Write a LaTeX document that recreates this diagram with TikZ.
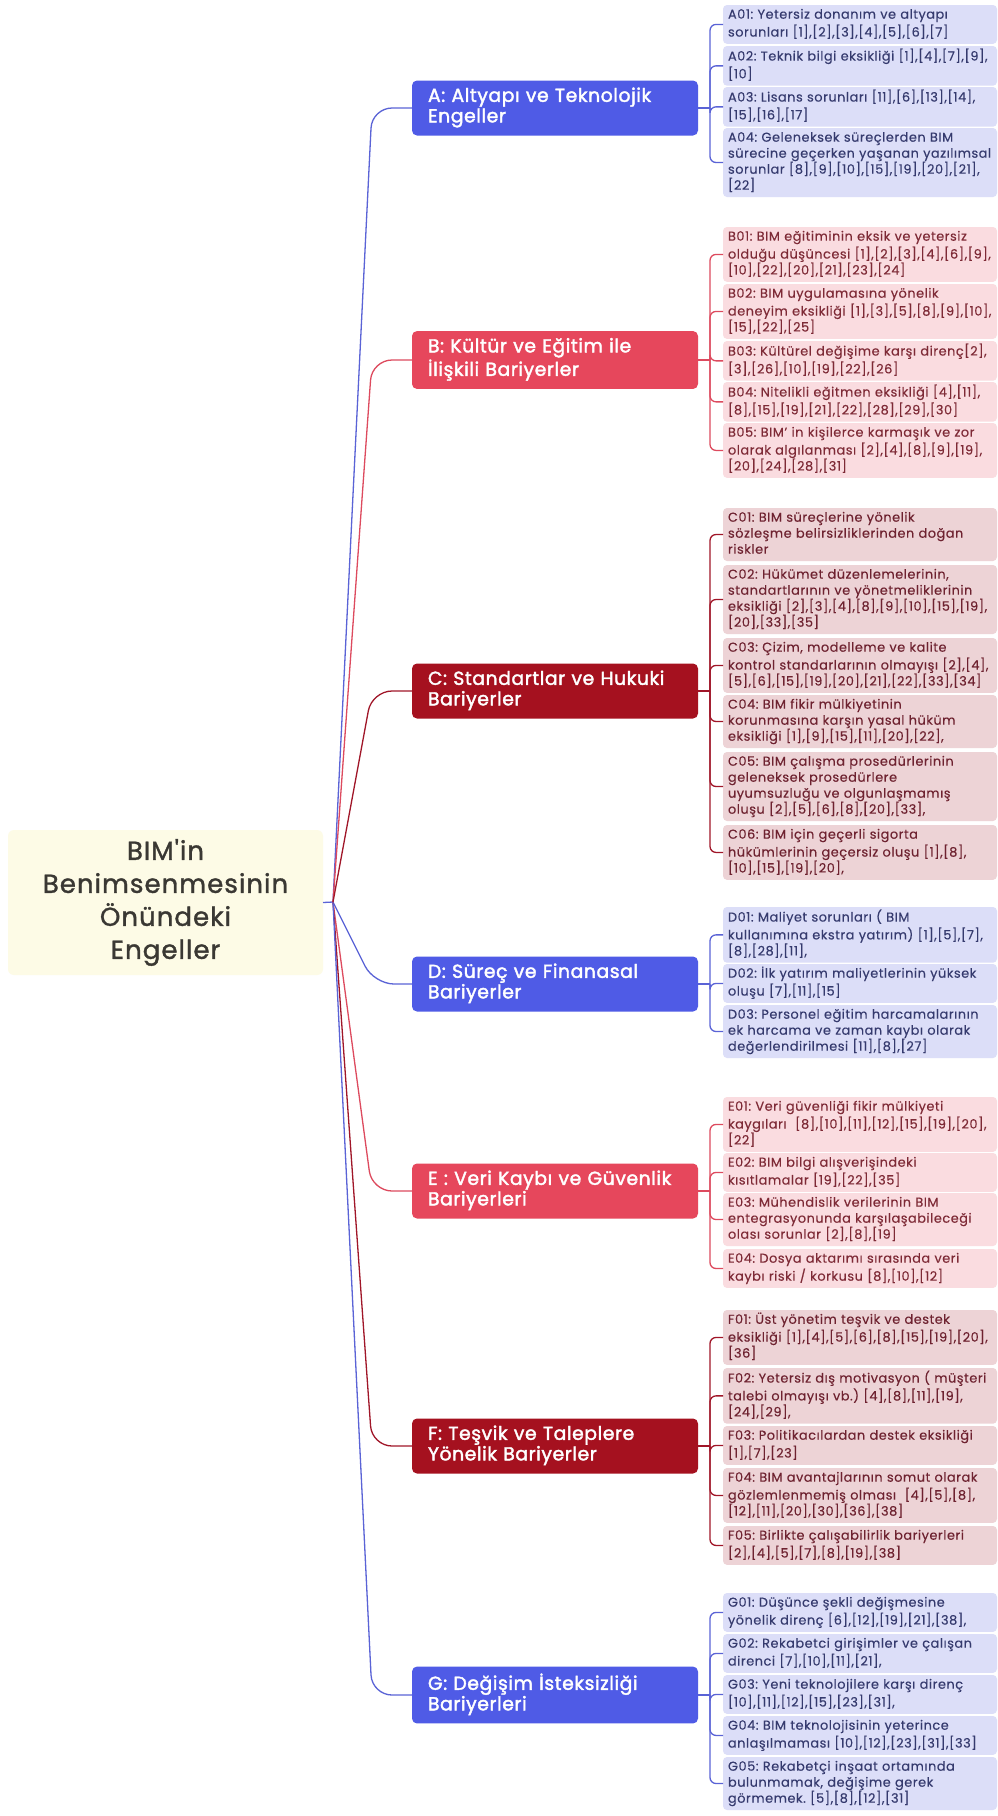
\documentclass[tikz,border=0pt]{standalone}
\usepackage{fontspec}
\setmainfont{Poppins}[LetterSpace=4, FakeBold=0.3]
\newfontfamily\rootfont{Poppins}[FakeBold=1.3, LetterSpace=4]
\newfontfamily\catfont{Poppins}[FakeBold=2, LetterSpace=3]
\usetikzlibrary{calc}
\definecolor{blueC}{HTML}{4F5BE6}
\definecolor{blueL}{HTML}{DCDEF8}
\definecolor{blueT}{HTML}{353A6E}
\definecolor{blueLine}{HTML}{5A63D6}
\definecolor{redC}{HTML}{E6475C}
\definecolor{redL}{HTML}{FADCE0}
\definecolor{redT}{HTML}{7E2A36}
\definecolor{redLine}{HTML}{DD4A5E}
\definecolor{darkC}{HTML}{A5111F}
\definecolor{darkL}{HTML}{EDD3D6}
\definecolor{darkT}{HTML}{6E2230}
\definecolor{darkLine}{HTML}{A01628}
\definecolor{rootF}{HTML}{FDFBE6}
\definecolor{rootT}{HTML}{3A3833}
\frenchspacing
\begin{document}
\begin{tikzpicture}[x=1pt,y=-1pt,
  every node/.style={inner sep=0pt, outer sep=0pt},
  rootbox/.style={fill=rootF, rounded corners=6pt, minimum width=315pt, minimum height=145pt, align=center, text=rootT, font=\rootfont\fontsize{26}{33}\selectfont},
  catbox/.style={rounded corners=5pt, anchor=west, minimum width=286pt, text width=254pt, align=left, inner xsep=16pt, inner ysep=7pt, text=white, font=\catfont\fontsize{18.8}{20.5}\selectfont, execute at begin node=\strut, execute at end node=\strut},
  catB/.style={catbox, fill=blueC},
  catR/.style={catbox, fill=redC},
  catD/.style={catbox, fill=darkC},
  leaf/.style={rounded corners=4pt, anchor=north west, minimum width=274pt, text width=264pt, inner xsep=5pt, inner ysep=2.5pt, align=left, font=\fontsize{12.9}{16}\selectfont, execute at begin node=\strut, execute at end node=\strut},
  lfB/.style={leaf, fill=blueL, text=blueT},
  lfR/.style={leaf, fill=redL, text=redT},
  lfD/.style={leaf, fill=darkL, text=darkT},
  lnB/.style={line width=1.3pt, draw=blueLine},
  lnR/.style={line width=1.3pt, draw=redLine},
  lnD/.style={line width=1.3pt, draw=darkLine},
  brk/.style={rounded corners=6pt},
  rc/.style={rounded corners=20pt}
]
\fill[white] (0,0) rectangle (998,1816);
\useasboundingbox (0,0) rectangle (998,1816);

% root
\node[rootbox] (root) at (165.5,902.5) {BIM'in\\Benimsenmesinin\\Önündeki\\Engeller};
\coordinate (J) at (333,902);

% categories
\node[catB] (A) at (412,108) {A: Altyapı ve Teknolojik\\Engeller};
\node[catR] (B) at (412,360) {B: Kültür ve Eğitim ile\\İlişkili Bariyerler};
\node[catD] (C) at (412,691) {C: Standartlar ve Hukuki\\Bariyerler};
\node[catB] (D) at (412,984) {D: Süreç ve Finanasal\\Bariyerler};
\node[catR] (E) at (412,1191) {E : Veri Kaybı ve Güvenlik\\Bariyerleri};
\node[catD] (F) at (412,1446) {F: Teşvik ve Taleplere\\Yönelik Bariyerler};
\node[catB] (G) at (412,1695) {G: Değişim İsteksizliği\\Bariyerleri};

% root connectors
\draw[lnB] (root.east) -- (J);
\draw[lnB,rc] (J) -- (372,108) -- (A.west);
\draw[lnR,rc] (J) -- (372,360) -- (B.west);
\draw[lnD,rc] (J) -- (372,691) -- (C.west);
\draw[lnB,rc] (J) -- (374,984) -- (D.west);
\draw[lnR,rc] (J) -- (372,1191) -- (E.west);
\draw[lnD,rc] (J) -- (372,1446) -- (F.west);
\draw[lnB,rc] (J) -- (372,1695) -- (G.west);

% A leaves
\node[lfB] (A01) at (723,5) {A01: Yetersiz donanım ve altyapı\\sorunları [1],[2],[3],[4],[5],[6],[7]};
\node[lfB] (A02) at (723,46) {A02: Teknik bilgi eksikliği [1],[4],[7],[9],\\{}[10]};
\node[lfB] (A03) at (723,87) {A03: Lisans sorunları [11],[6],[13],[14],\\{}[15],[16],[17]};
\node[lfB] (A04) at (723,128) {A04: Geleneksek süreçlerden BIM\\sürecine geçerken yaşanan yazılımsal\\sorunlar [8],[9],[10],[15],[19],[20],[21],\\{}[22]};
% B leaves
\node[lfR] (B01) at (723,227) {B01: BIM eğitiminin eksik ve yetersiz\\olduğu düşüncesi [1],[2],[3],[4],[6],[9],\\{}[10],[22],[20],[21],[23],[24]};
\node[lfR] (B02) at (723,284) {B02: BIM uygulamasına yönelik\\deneyim eksikliği [1],[3],[5],[8],[9],[10],\\{}[15],[22],[25]};
\node[lfR] (B03) at (723,341) {B03: Kültürel değişime karşı direnç[2],\\{}[3],[26],[10],[19],[22],[26]};
\node[lfR] (B04) at (723,382) {B04: Nitelikli eğitmen eksikliği [4],[11],\\{}[8],[15],[19],[21],[22],[28],[29],[30]};
\node[lfR] (B05) at (723,423) {B05: BIM' in kişilerce karmaşık ve zor\\olarak algılanması [2],[4],[8],[9],[19],\\{}[20],[24],[28],[31]};
% C leaves
\node[lfD] (C01) at (723,508) {C01: BIM süreçlerine yönelik\\sözleşme belirsizliklerinden doğan\\riskler};
\node[lfD] (C02) at (723,565) {C02: Hükümet düzenlemelerinin,\\standartlarının ve yönetmeliklerinin\\eksikliği [2],[3],[4],[8],[9],[10],[15],[19],\\{}[20],[33],[35]};
\node[lfD] (C03) at (723,638) {C03: Çizim, modelleme ve kalite\\kontrol standarlarının olmayışı [2],[4],\\{}[5],[6],[15],[19],[20],[21],[22],[33],[34]};
\node[lfD] (C04) at (723,695) {C04: BIM fikir mülkiyetinin\\korunmasına karşın yasal hüküm\\eksikliği [1],[9],[15],[11],[20],[22],};
\node[lfD] (C05) at (723,752) {C05: BIM çalışma prosedürlerinin\\geleneksek prosedürlere\\uyumsuzluğu ve olgunlaşmamış\\oluşu [2],[5],[6],[8],[20],[33],};
\node[lfD] (C06) at (723,825) {C06: BIM için geçerli sigorta\\hükümlerinin geçersiz oluşu [1],[8],\\{}[10],[15],[19],[20],};
% D leaves
\node[lfB] (D01) at (723,907) {D01: Maliyet sorunları ( BIM\\kullanımına ekstra yatırım) [1],[5],[7],\\{}[8],[28],[11],};
\node[lfB] (D02) at (723,964) {D02: İlk yatırım maliyetlerinin yüksek\\oluşu [7],[11],[15]};
\node[lfB] (D03) at (723,1005) {D03: Personel eğitim harcamalarının\\ek harcama ve zaman kaybı olarak\\değerlendirilmesi [11],[8],[27]};
% E leaves
\node[lfR] (E01) at (723,1097) {E01: Veri güvenliği fikir mülkiyeti\\kaygıları\ \ [8],[10],[11],[12],[15],[19],[20],\\{}[22]};
\node[lfR] (E02) at (723,1153) {E02: BIM bilgi alışverişindeki\\kısıtlamalar [19],[22],[35]};
\node[lfR] (E03) at (723,1193) {E03: Mühendislik verilerinin BIM\\entegrasyonunda karşılaşabileceği\\olası sorunlar [2],[8],[19]};
\node[lfR] (E04) at (723,1249) {E04: Dosya aktarımı sırasında veri\\kaybı riski / korkusu [8],[10],[12]};
% F leaves
\node[lfD] (F01) at (723,1310) {F01: Üst yönetim teşvik ve destek\\eksikliği [1],[4],[5],[6],[8],[15],[19],[20],\\{}[36]};
\node[lfD] (F02) at (723,1368) {F02: Yetersiz dış motivasyon ( müşteri\\talebi olmayışı vb.) [4],[8],[11],[19],\\{}[24],[29],};
\node[lfD] (F03) at (723,1426) {F03: Politikacılardan destek eksikliği\\{}[1],[7],[23]};
\node[lfD] (F04) at (723,1468) {F04: BIM avantajlarının somut olarak\\gözlemlenmemiş olması\ \ [4],[5],[8],\\{}[12],[11],[20],[30],[36],[38]};
\node[lfD] (F05) at (723,1526) {F05: Birlikte çalışabilirlik bariyerleri\\{}[2],[4],[5],[7],[8],[19],[38]};
% G leaves
\node[lfB] (G01) at (723,1593) {G01: Düşünce şekli değişmesine\\yönelik direnç [6],[12],[19],[21],[38],};
\node[lfB] (G02) at (723,1634) {G02: Rekabetci girişimler ve çalışan\\direnci [7],[10],[11],[21],};
\node[lfB] (G03) at (723,1675) {G03: Yeni teknolojilere karşı direnç\\{}[10],[11],[12],[15],[23],[31],};
\node[lfB] (G04) at (723,1716) {G04: BIM teknolojisinin yeterince\\anlaşılmaması [10],[12],[23],[31],[33]};
\node[lfB] (G05) at (723,1757) {G05: Rekabetçi inşaat ortamında\\bulunmamak, değişime gerek\\görmemek. [5],[8],[12],[31]};

% brackets
\coordinate (Aj) at (710,108);
\coordinate (Bj) at (710,360);
\coordinate (Cj) at (710,691);
\coordinate (Dj) at (710,984);
\coordinate (Ej) at (710,1191);
\coordinate (Fj) at (710,1446);
\coordinate (Gj) at (710,1695);
\draw[lnB] (A.east) -- (Aj);
\foreach \n in {A01,A02,A03,A04} \draw[lnB,brk] (Aj) |- (\n.west);
\draw[lnR] (B.east) -- (Bj);
\foreach \n in {B01,B02,B03,B04,B05} \draw[lnR,brk] (Bj) |- (\n.west);
\draw[lnD] (C.east) -- (Cj);
\foreach \n in {C01,C02,C03,C04,C05,C06} \draw[lnD,brk] (Cj) |- (\n.west);
\draw[lnB] (D.east) -- (Dj);
\foreach \n in {D01,D02,D03} \draw[lnB,brk] (Dj) |- (\n.west);
\draw[lnR] (E.east) -- (Ej);
\foreach \n in {E01,E02,E03,E04} \draw[lnR,brk] (Ej) |- (\n.west);
\draw[lnD] (F.east) -- (Fj);
\foreach \n in {F01,F02,F03,F04,F05} \draw[lnD,brk] (Fj) |- (\n.west);
\draw[lnB] (G.east) -- (Gj);
\foreach \n in {G01,G02,G03,G04,G05} \draw[lnB,brk] (Gj) |- (\n.west);
\end{tikzpicture}
\end{document}
